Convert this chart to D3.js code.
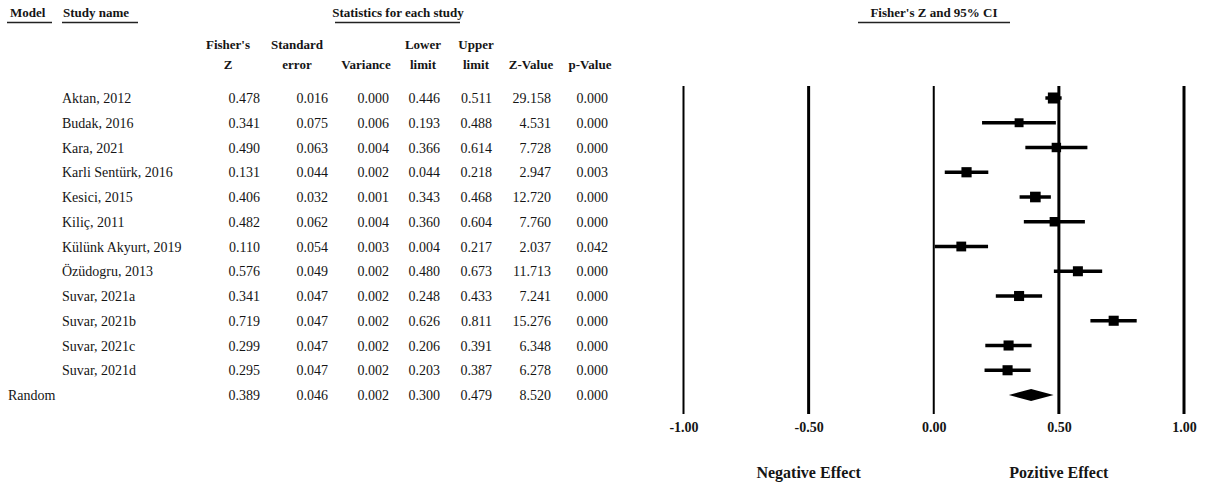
<!DOCTYPE html>
<html>
<head>
<meta charset="utf-8">
<script src="https://cdn.jsdelivr.net/npm/d3@7"></script>
<style>
  html, body { margin: 0; padding: 0; background: #fff; }
  svg { display: block; }
  text { font-family: "Liberation Serif", "Times New Roman", serif; fill: #151515; }
  .hdr { font-weight: bold; font-size: 13px; }
  .cell { font-size: 14px; }
</style>
</head>
<body>
<svg id="chart" width="1206" height="488"></svg>
<script>
// Study-level results (Fisher's Z, random-effects model)
const studies   = ["Aktan, 2012", "Budak, 2016", "Kara, 2021", "Karli Sentürk, 2016", "Kesici, 2015",
                   "Kiliç, 2011", "Külünk Akyurt, 2019", "Özüdogru, 2013", "Suvar, 2021a", "Suvar, 2021b",
                   "Suvar, 2021c", "Suvar, 2021d"];
const fisherZ   = [0.478, 0.341, 0.490, 0.131, 0.406, 0.482, 0.110, 0.576, 0.341, 0.719, 0.299, 0.295];
const stdErr    = [0.016, 0.075, 0.063, 0.044, 0.032, 0.062, 0.054, 0.049, 0.047, 0.047, 0.047, 0.047];
const variance  = [0.000, 0.006, 0.004, 0.002, 0.001, 0.004, 0.003, 0.002, 0.002, 0.002, 0.002, 0.002];
const lowerLim  = [0.446, 0.193, 0.366, 0.044, 0.343, 0.360, 0.004, 0.480, 0.248, 0.626, 0.206, 0.203];
const upperLim  = [0.511, 0.488, 0.614, 0.218, 0.468, 0.604, 0.217, 0.673, 0.433, 0.811, 0.391, 0.387];
const zValue    = [29.158, 4.531, 7.728, 2.947, 12.720, 7.760, 2.037, 11.713, 7.241, 15.276, 6.348, 6.278];
const pValue    = [0.000, 0.000, 0.000, 0.003, 0.000, 0.000, 0.042, 0.000, 0.000, 0.000, 0.000, 0.000];

// Pooled estimate
const pooledLabel = "Random";
const pooled = { z: 0.389, se: 0.046, v: 0.002, lo: 0.300, hi: 0.479, zv: 8.520, p: 0.000 };

// Axis
const axisTicks = [-1.00, -0.50, 0.00, 0.50, 1.00];
const sideLabels = [{ at: -0.50, text: "Negative Effect" }, { at: 0.50, text: "Pozitive Effect" }];

// Column headers: [line1, line2]
const colHeads = [["Fisher's", "Z"], ["Standard", "error"], ["", "Variance"], ["Lower", "limit"],
                  ["Upper", "limit"], ["", "Z-Value"], ["", "p-Value"]];

const tau2 = 0.01; // between-study variance used for box weights

const svg = d3.select("#chart");
const f3 = d3.format(".3f");

const rowKeys = studies.concat([pooledLabel]);
const y = d3.scalePoint().domain(rowKeys).range([98, 395]);
const x = d3.scaleLinear().domain([-1, 1]).range([683.5, 1184]);

// table column layout: header centre and right edge of the values
const colCenter = [228, 297, 366, 423, 476, 531, 590];
const colRight  = [260, 328, 389, 440, 492, 551, 608];

// ---- top headers with underlines
function underlined(label, cx, x0, x1, anchor) {
  svg.append("text").attr("class", "hdr").attr("x", cx).attr("y", 17)
     .attr("text-anchor", anchor).text(label);
  svg.append("line").attr("x1", x0).attr("x2", x1).attr("y1", 22.5).attr("y2", 22.5)
     .attr("stroke", "#222").attr("stroke-width", 1.3);
}
underlined("Model", 10, 7, 52, "start");
underlined("Study name", 63, 62, 138, "start");
underlined("Statistics for each study", 398, 335, 460, "middle");
underlined("Fisher's Z and 95% CI", 934, 858, 1010, "middle");

colHeads.forEach((h, i) => {
  svg.append("text").attr("class", "hdr").attr("x", colCenter[i]).attr("y", 49)
     .attr("text-anchor", "middle").text(h[0]);
  svg.append("text").attr("class", "hdr").attr("x", colCenter[i]).attr("y", 69)
     .attr("text-anchor", "middle").text(h[1]);
});

// ---- table rows
const rows = studies.map((s, i) => ({
  name: s, z: fisherZ[i], se: stdErr[i], v: variance[i], lo: lowerLim[i], hi: upperLim[i],
  zv: zValue[i], p: pValue[i]
}));

function rowCells(d) { return [f3(d.z), f3(d.se), f3(d.v), f3(d.lo), f3(d.hi), f3(d.zv), f3(d.p)]; }

const rowG = svg.append("g").selectAll("g").data(rows).join("g")
  .attr("transform", d => `translate(0,${y(d.name) + 5})`);
rowG.append("text").attr("class", "cell").attr("x", 62).text(d => d.name);
rowG.selectAll("text.val").data(d => rowCells(d)).join("text")
  .attr("class", "cell val").attr("x", (t, i) => colRight[i]).attr("text-anchor", "end").text(t => t);

const pg = svg.append("g").attr("transform", `translate(0,${y(pooledLabel) + 5})`);
pg.append("text").attr("class", "cell").attr("x", 8).text(pooledLabel);
pg.selectAll("text.val").data(rowCells(pooled)).join("text")
  .attr("class", "cell val").attr("x", (t, i) => colRight[i]).attr("text-anchor", "end").text(t => t);

// ---- forest plot reference lines
const gTop = 86, gBot = 414;
svg.append("g").selectAll("line").data(axisTicks).join("line")
  .attr("x1", d => x(d)).attr("x2", d => x(d)).attr("y1", gTop).attr("y2", gBot)
  .attr("stroke", "#000").attr("stroke-width", d => (d === -1 || d === 0) ? 2 : 3);

// axis labels
const axis = d3.axisBottom(x).tickValues(axisTicks).tickSize(0).tickPadding(8)
  .tickFormat(d => d3.format(".2f")(d).replace("\u2212", "-"));
const ax = svg.append("g").attr("transform", `translate(0,${gBot})`).call(axis);
ax.select(".domain").remove();
ax.selectAll("text").attr("font-family", "'Liberation Serif', 'Times New Roman', serif")
  .attr("font-size", 14).attr("font-weight", "bold").attr("fill", "#151515");

svg.append("g").selectAll("text").data(sideLabels).join("text")
  .attr("x", d => x(d.at)).attr("y", 478).attr("text-anchor", "middle")
  .attr("font-size", 16).attr("font-weight", "bold").text(d => d.text);

// ---- confidence intervals and boxes
const weights = rows.map(d => 1 / (d.se * d.se + tau2));
const side = d3.scaleSqrt().domain([0, d3.max(weights)]).range([0, 11]);

const plotG = svg.append("g");
plotG.selectAll("line.ci").data(rows).join("line").attr("class", "ci")
  .attr("x1", d => x(d.lo)).attr("x2", d => x(d.hi))
  .attr("y1", d => y(d.name)).attr("y2", d => y(d.name))
  .attr("stroke", "#000").attr("stroke-width", 3.5);
plotG.selectAll("rect.box").data(rows).join("rect").attr("class", "box")
  .attr("x", (d, i) => x(d.z) - side(weights[i]) / 2)
  .attr("y", (d, i) => y(d.name) - side(weights[i]) / 2)
  .attr("width", (d, i) => side(weights[i]))
  .attr("height", (d, i) => side(weights[i]))
  .attr("fill", "#000");

// pooled diamond
const py = y(pooledLabel);
plotG.append("path")
  .attr("d", `M${x(pooled.lo)},${py} L${x(pooled.z)},${py - 6} L${x(pooled.hi)},${py} L${x(pooled.z)},${py + 6} Z`)
  .attr("fill", "#000");
</script>
</body>
</html>
